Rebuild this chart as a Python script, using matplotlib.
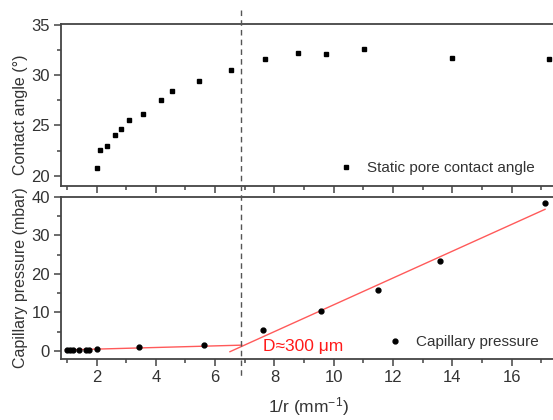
import matplotlib
matplotlib.use("Agg")
import matplotlib.pyplot as plt
from matplotlib.ticker import MultipleLocator
from matplotlib.lines import Line2D
import matplotlib.transforms as mtransforms

plt.rcParams['font.family'] = ['Liberation Sans', 'DejaVu Sans']
plt.rcParams['mathtext.default'] = 'regular'

# Contact angle data
ca_x = [2.0, 2.12, 2.36, 2.61, 2.84, 3.10, 3.55, 4.17, 4.53, 5.44, 6.52, 7.67, 8.79, 9.74, 11.03, 14.0, 17.28]
ca_y = [20.8, 22.6, 23.0, 24.05, 24.6, 25.5, 26.1, 27.5, 28.4, 29.4, 30.5, 31.6, 32.2, 32.1, 32.6, 31.7, 31.55]

# Capillary pressure data
cp_x = [1.0, 1.11, 1.22, 1.42, 1.64, 1.76, 2.0, 3.43, 5.63, 7.6, 9.57, 11.49, 13.57, 17.13]
cp_y = [0.2, 0.2, 0.2, 0.2, 0.2, 0.2, 0.6, 0.95, 1.65, 5.4, 10.3, 15.9, 23.4, 38.4]

# Linear fits
fit_low_x = [0.95, 6.9]
fit_low_y = [0.25, 1.5]
fit_high_x = [6.5, 17.13]
fit_high_y = [-0.2, 36.8]

transition_x = 6.87
annot_text = "D\u2248300 \u03bcm"

fig = plt.figure(figsize=(5.53, 4.2), dpi=100)
left = 61 / 553
width = (556 - 61) / 553
ax1 = fig.add_axes([left, 234 / 420, width, 162 / 420])
ax2 = fig.add_axes([left, 61 / 420, width, 162 / 420])

dark = '#333333'
spine_c = '#444444'

for ax in (ax1, ax2):
    ax.set_xlim(0.8, 17.5)
    for s in ax.spines.values():
        s.set_color(spine_c)
        s.set_linewidth(1.3)
    ax.xaxis.set_major_locator(MultipleLocator(2))
    ax.xaxis.set_minor_locator(MultipleLocator(1))
    ax.tick_params(which='both', direction='out', colors=spine_c, labelcolor=dark,
                   labelsize=12, top=False, right=False)
    ax.tick_params(which='major', length=5, width=1.1, pad=3)
    ax.tick_params(which='minor', length=3, width=1.1)

# Top panel
ax1.plot(ca_x, ca_y, 's', color='black', markersize=3, linestyle='none',
         label='Static pore contact angle')
ax1.set_ylim(19, 35.05)
ax1.yaxis.set_major_locator(MultipleLocator(5))
ax1.yaxis.set_minor_locator(MultipleLocator(2.5))
ax1.tick_params(labelbottom=False)
ax1.set_ylabel('Contact angle (\u00b0)', fontsize=11.5, color=dark, labelpad=2)
ax1.yaxis.label.set_y(0.44)
ax1.legend(loc='center left', bbox_to_anchor=(338 / 553, 1 - 168 / 420),
           bbox_transform=fig.transFigure, frameon=False, fontsize=11,
           handlelength=1.0, handletextpad=0.9, borderpad=0, borderaxespad=0,
           labelcolor=dark)

# Bottom panel
ax2.plot(fit_low_x, fit_low_y, color='#ff5a5a', linewidth=1)
ax2.plot(fit_high_x, fit_high_y, color='#ff5a5a', linewidth=1)
ax2.plot(cp_x, cp_y, 'o', color='black', markersize=3.5, linestyle='none',
         label='Capillary pressure')
ax2.set_ylim(-2.1, 40)
ax2.yaxis.set_major_locator(MultipleLocator(10))
ax2.yaxis.set_minor_locator(MultipleLocator(5))
ax2.set_ylabel('Capillary pressure (mbar)', fontsize=11.5, color=dark, labelpad=2)
ax2.set_xlabel('1/r (mm$^{-1}$)', fontsize=12.5, color=dark, labelpad=7.5)
ax2.text(7.6, 1.2, annot_text, color='#ff1a1a', fontsize=12.5, va='center', ha='left')
ax2.legend(loc='center left', bbox_to_anchor=(387 / 553, 1 - 342 / 420),
           bbox_transform=fig.transFigure, frameon=False, fontsize=11,
           handlelength=1.0, handletextpad=0.9, borderpad=0, borderaxespad=0,
           labelcolor=dark)

# Vertical dashed transition line across both panels
trans = mtransforms.blended_transform_factory(ax2.transData, fig.transFigure)
fig.add_artist(Line2D([transition_x, transition_x], [1 - 10 / 420, 1 - 377 / 420],
                      transform=trans, color='#555555', linestyle=(0, (4, 3)),
                      linewidth=1))

fig.savefig('out.png', dpi=100)
